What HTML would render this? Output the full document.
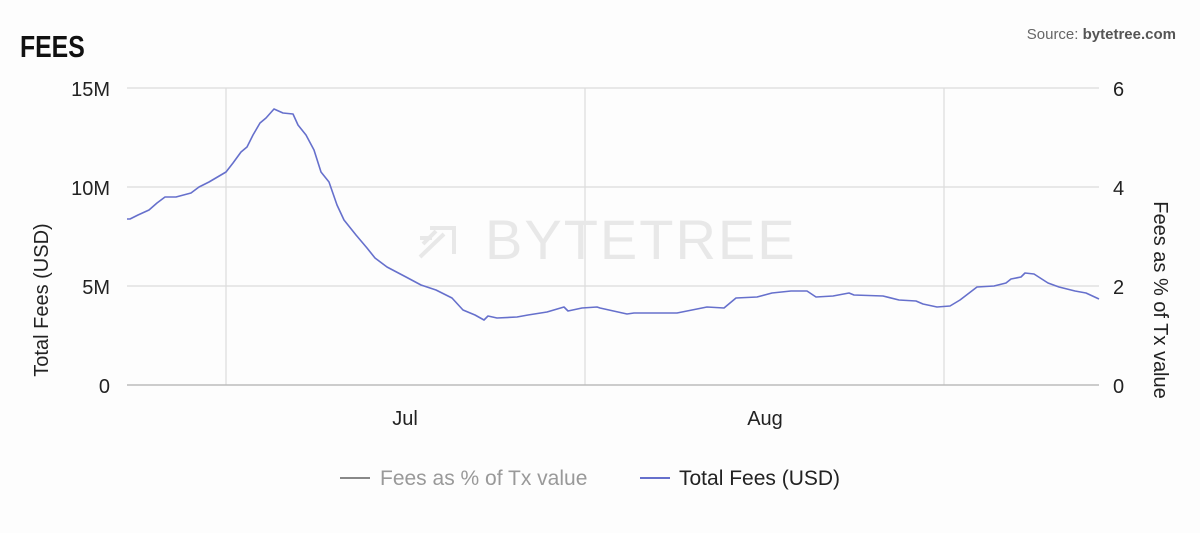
<!DOCTYPE html>
<html><head><style>
body{margin:0;background:#fdfdfd;width:1200px;height:528px;overflow:hidden;font-family:"Liberation Sans",sans-serif;}
</style></head><body>
<svg width="1200" height="528" viewBox="0 0 1200 528" xmlns="http://www.w3.org/2000/svg" font-family="Liberation Sans, sans-serif">
<text x="25" y="57" font-size="31" font-weight="bold" fill="#111" transform="scale(0.8,1)">FEES</text>
<text x="1176" y="39" font-size="15" fill="#666" text-anchor="end">Source: <tspan font-weight="bold" fill="#555">bytetree.com</tspan></text>
<g stroke="#dcdcdc" stroke-width="1.2">
<line x1="127" y1="88" x2="1099" y2="88"/>
<line x1="127" y1="187" x2="1099" y2="187"/>
<line x1="127" y1="286" x2="1099" y2="286"/>
<line x1="226" y1="88" x2="226" y2="385"/>
<line x1="585" y1="88" x2="585" y2="385"/>
<line x1="944" y1="88" x2="944" y2="385"/>
</g>
<line x1="127" y1="385" x2="1099" y2="385" stroke="#bbb" stroke-width="1.5"/>
<text x="485" y="259" font-size="56" fill="#e8e8e8" style="letter-spacing:2px">BYTETREE</text>
<g stroke="#e8e8e8" stroke-width="4" fill="none">
<path d="M420 257 L444 234 M430 228 L454 228 L454 254 M423 244 L436 231 M420 238 L432 238"/>
</g>
<g font-size="20" fill="#222">
<text x="110" y="96" text-anchor="end">15M</text>
<text x="110" y="195" text-anchor="end">10M</text>
<text x="110" y="294" text-anchor="end">5M</text>
<text x="110" y="393" text-anchor="end">0</text>
<text x="1113" y="96">6</text>
<text x="1113" y="195">4</text>
<text x="1113" y="294">2</text>
<text x="1113" y="393">0</text>
<text x="405" y="425" text-anchor="middle">Jul</text>
<text x="765" y="425" text-anchor="middle">Aug</text>
<text transform="translate(48,300) rotate(-90)" text-anchor="middle">Total Fees (USD)</text>
<text transform="translate(1154,300) rotate(90)" text-anchor="middle">Fees as % of Tx value</text>
</g>
<polyline fill="none" stroke="#6670cc" stroke-width="1.6" stroke-linejoin="round" points="127,219 130,219 138,215 149,210 157,203 165,197 176,197 191,193 199,187 209,182 226,172 233,163 241,152 247,147 253,135 260,123 266,118 274,109 283,113 293,114 298,125 306,135 314,150 321,172 329,182 337,205 344,220 356,235 367,248 375,258 387,267 406,277 421,285 436,290 452,298 463,310 475,315 484,320 488,316 497,318 517,317 528,315 547,312 564,307 568,311 582,308 597,307 600,308 627,314 634,313 677,313 692,310 707,307 724,308 736,298 757,297 772,293 791,291 807,291 816,297 833,296 849,293 854,295 883,296 899,300 916,301 923,304 937,307 950,306 960,300 977,287 994,286 1006,283 1011,279 1021,277 1025,273 1034,274 1048,283 1059,287 1075,291 1086,293 1099,299"/>
<line x1="340" y1="478" x2="370" y2="478" stroke="#888" stroke-width="2"/>
<text x="380" y="485" font-size="21" fill="#999">Fees as % of Tx value</text>
<line x1="640" y1="478" x2="670" y2="478" stroke="#6670cc" stroke-width="2"/>
<text x="679" y="485" font-size="21" fill="#222">Total Fees (USD)</text>
</svg>
</body></html>
